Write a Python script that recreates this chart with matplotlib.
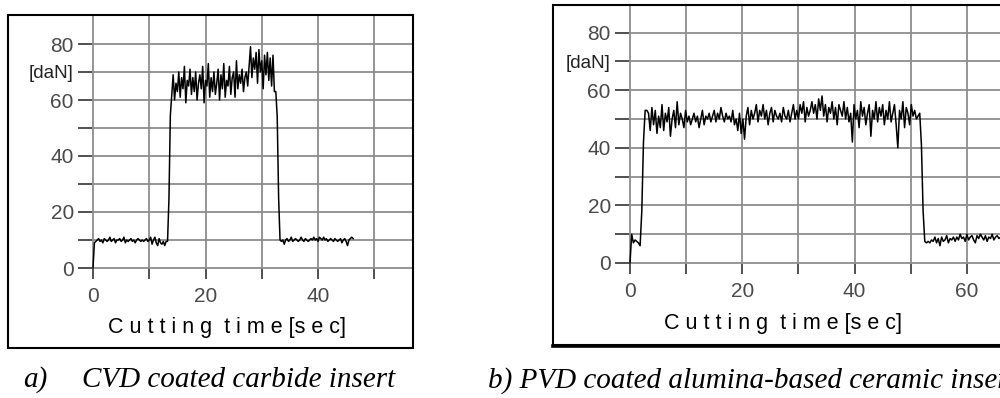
#!/usr/bin/env python3
"""Cutting force vs. time for two coated inserts (two framed panels)."""

import numpy as np
import matplotlib.pyplot as plt
from matplotlib.patches import Rectangle
from matplotlib.lines import Line2D

W, H = 1000, 398

# ---- data: panel a) CVD coated carbide insert, sampled every 0.25 s ----
DT_A = 0.25
force_a_idle_start = [
    0, 9, 9.5, 10, 10.5, 9.5, 10, 9, 10.5, 10,
    9.5, 10, 11, 9.5, 10, 10.5, 9, 10, 10, 10.5,
    9.5, 10, 11, 9, 10, 9.5, 10, 10.5, 9.5, 10,
    9, 10, 10.5, 10, 9.5, 10, 9.5, 10, 10.5, 9.5,
    10, 11, 8.5, 10, 11, 9, 8, 10.5, 9, 8.5,
    9.5, 8, 9.5, 9.5,
]
force_a_rise = [24.5, 54.5]
force_a_cut = [
    62, 69, 60, 66, 63, 70, 61, 68, 64, 72, 59, 67, 65, 71, 62, 68, 63, 70, 60, 66,
    69, 64, 72, 59, 67, 65, 73, 61, 68, 63, 70, 62, 66, 71, 60, 69, 64, 73, 61, 67,
    65, 72, 62, 68, 70, 61, 74, 64, 69, 66, 71, 63, 68, 70, 65, 72,
    79, 68, 75, 71, 77, 66, 78, 70, 74, 64, 76, 69, 77, 67, 75, 65, 76, 63,
]
force_a_fall = [63, 54, 25]
force_a_idle_end = [
    10, 9.5, 10, 8.5, 10, 10.5, 9.5, 10, 11, 9.5,
    10, 10.5, 10, 9.5, 10, 11, 10, 9.5, 10.5, 10,
    9.5, 10, 10.5, 10, 11, 10, 10.5, 9.5, 11, 10.5,
    10, 11, 10, 10.5, 9.5, 10, 10.5, 10, 9.5, 10.5,
    10, 9.5, 10, 10.5, 9, 10, 10.5, 9.5, 8, 10,
    10.5, 11, 10.5,
]

# ---- data: panel b) PVD coated alumina-based ceramic insert, every 0.3 s ----
DT_B = 0.3
force_b_idle_start = [0, 10, 7, 8, 7.5, 7, 6]
force_b_rise = [18, 42]
force_b_cut = [
    53, 53, 52, 46, 54, 48, 53, 45, 51, 47,
    55, 46, 52, 49, 54, 44, 50, 53, 47, 56,
    48, 52, 50, 47, 53, 49, 51, 48, 50, 52,
    49, 51, 47, 50, 53, 48, 51, 50, 52, 49,
    51, 53, 49, 52, 50, 54, 51, 49, 52, 50,
    51, 49, 53, 48, 50, 46, 52, 45, 50, 43,
    51, 54, 48, 53, 50, 52, 55, 49, 53, 51,
    55, 50, 53, 48, 52, 54, 49, 53, 51, 50,
    52, 49, 54, 51, 50, 53, 49, 52, 55, 50,
    53, 50, 55, 52, 56, 49, 54, 51, 53, 56,
    52, 55, 50, 57, 53, 58, 51, 55, 49, 54,
    52, 56, 50, 54, 48, 55, 53, 51, 56, 50,
    54, 49, 52, 42, 55, 50, 53, 47, 56, 51,
    54, 48, 52, 55, 44, 53, 50, 56, 49, 54,
    51, 55, 48, 53, 50, 56, 49, 52, 55, 48,
    40, 53, 50, 56, 47, 54, 52, 48, 55, 51,
    53, 50, 51, 52,
]
force_b_fall = [41, 18]
force_b_idle_end = [
    7.5, 7, 7.5, 7, 8, 7.5, 9, 7, 8.5, 6,
    9, 7.5, 8, 9.5, 7, 8.5, 8, 9, 7.5, 9,
    8, 10, 8.5, 9, 7.5, 10, 8, 9, 9.5, 8,
    7, 9.5, 8.5, 10, 9, 8, 9.5, 7.5, 9, 8.5,
    10, 8, 9, 9.5, 8.5, 9,
]

y_ticks = [0, 10, 20, 30, 40, 50, 60, 70, 80]
y_labels = ["0", "", "20", "", "40", "", "60", "[daN]", "80"]
x_ticks_a = [0, 10, 20, 30, 40, 50]
x_labels_a = ["0", "", "20", "", "40", ""]
x_ticks_b = [0, 10, 20, 30, 40, 50, 60]
x_labels_b = ["0", "", "20", "", "40", "", "60"]

xlabel = "C u t t i n g  t i m e [s e c]"
caption_a = ("a)", "CVD coated carbide insert")
caption_b = "b) PVD coated alumina-based ceramic insert"

GRID = "#8e8e8e"
TICKLBL = "#4a4a4a"


def px_axes(fig, x0_px, x_scale, y0_px, y_scale, xlim, ylim):
    """Place an axes so that data (0, 0) lands on pixel (x0_px, y0_px)."""
    left = x0_px + xlim[0] * x_scale
    right = x0_px + xlim[1] * x_scale
    bottom = y0_px - ylim[0] * y_scale
    top = y0_px - ylim[1] * y_scale
    ax = fig.add_axes([left / W, 1 - bottom / H, (right - left) / W, (bottom - top) / H])
    ax.set_xlim(*xlim)
    ax.set_ylim(*ylim)
    return ax


def style(ax, xt, xl):
    for s in ax.spines.values():
        s.set_visible(False)
    ax.set_xticks(xt)
    ax.set_xticklabels(xl)
    ax.set_yticks(y_ticks)
    ax.set_yticklabels(y_labels)
    ax.grid(True, color=GRID, lw=1.3)
    ax.set_axisbelow(True)
    ax.tick_params(axis="x", length=7, width=1.2, color="#333333", pad=6,
                   labelsize=15, labelcolor=TICKLBL)
    ax.tick_params(axis="y", length=10, width=1.2, color="#333333", pad=3,
                   labelsize=15, labelcolor=TICKLBL)
    for lbl in ax.get_yticklabels():
        if lbl.get_text() == "[daN]":
            lbl.set_fontsize(13.5)
            lbl.set_color("#222222")


def main():
    plt.rcParams["font.family"] = ["Liberation Sans", "DejaVu Sans"]
    fig = plt.figure(figsize=(W / 100, H / 100), dpi=100)

    force_a = np.array(force_a_idle_start + force_a_rise + force_a_cut
                       + force_a_fall + force_a_idle_end, dtype=float)
    t_a = np.arange(len(force_a)) * DT_A
    force_b = np.array(force_b_idle_start + force_b_rise + force_b_cut
                       + force_b_fall + force_b_idle_end, dtype=float)
    t_b = np.arange(len(force_b)) * DT_B

    # panel a
    ax1 = px_axes(fig, 93, 5.625, 268, 2.8, (-0.2, 56.9), (-0.4, 90))
    style(ax1, x_ticks_a, x_labels_a)
    ax1.plot(t_a, force_a, color="black", lw=1.1)
    fig.text(227 / W, 1 - 327 / H, xlabel, ha="center", va="center", fontsize=15.5)

    # panel b
    ax2 = px_axes(fig, 630, 5.615, 263, 2.88, (-0.2, 66.0), (-0.4, 89.5))
    style(ax2, x_ticks_b, x_labels_b)
    ax2.plot(t_b, force_b, color="black", lw=1.1)
    fig.text(783 / W, 1 - 324 / H, xlabel, ha="center", va="center", fontsize=15.5)

    # frames
    fig.patches.append(Rectangle((8 / W, 1 - 348 / H), (413 - 8) / W, (348 - 15) / H,
                                 transform=fig.transFigure, fill=False,
                                 ec="black", lw=1.5))
    fig.patches.append(Rectangle((553 / W, 1 - 345 / H), 460 / W, (345 - 5) / H,
                                 transform=fig.transFigure, fill=False,
                                 ec="black", lw=1.5))
    fig.lines.append(Line2D([553 / W, 1.0], [1 - 345.5 / H] * 2,
                            transform=fig.transFigure, color="black", lw=2.6))

    # captions
    cap = dict(family=["Liberation Serif", "DejaVu Serif"], style="italic",
               fontsize=21, va="center", ha="left")
    fig.text(23 / W, 1 - 380 / H, caption_a[0], **cap)
    fig.text(82 / W, 1 - 380 / H, caption_a[1], **cap)
    fig.text(488 / W, 1 - 381 / H, caption_b, **cap)

    fig.savefig("out.png", dpi=100)
    plt.close(fig)


if __name__ == "__main__":
    main()
